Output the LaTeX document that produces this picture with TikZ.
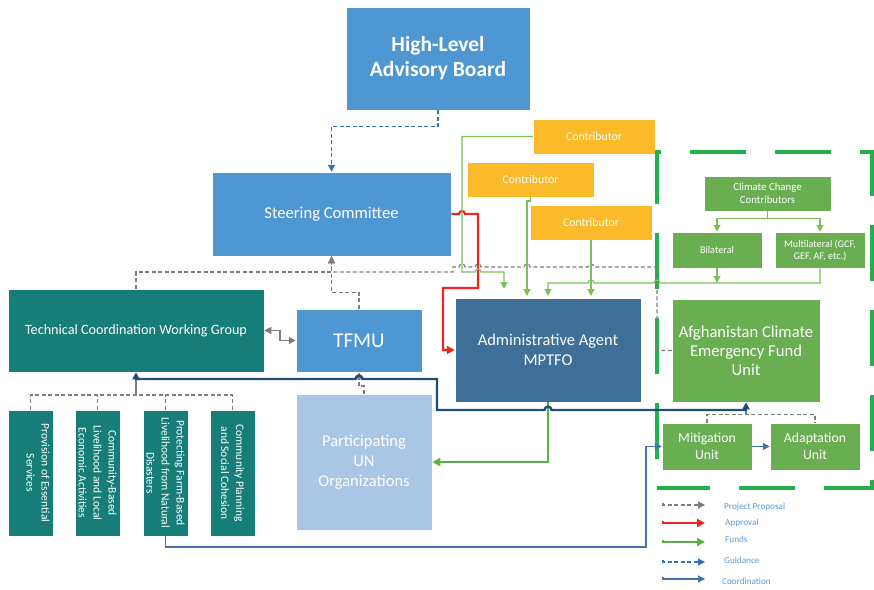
\documentclass[tikz,border=0pt]{standalone}
\usepackage{fontspec}
\setmainfont{Carlito}
\usetikzlibrary{arrows.meta}
\definecolor{midblue}{RGB}{78,151,210}
\definecolor{tealc}{RGB}{23,125,120}
\definecolor{darkbox}{RGB}{62,112,153}
\definecolor{lightbox}{RGB}{169,198,228}
\definecolor{orangec}{RGB}{251,186,41}
\definecolor{greenbox}{RGB}{106,174,82}
\definecolor{ppgray}{RGB}{125,125,125}
\definecolor{apred}{RGB}{238,36,36}
\definecolor{fundlight}{RGB}{124,192,90}
\definecolor{fundgreen}{RGB}{92,178,71}
\definecolor{guidblue}{RGB}{46,117,182}
\definecolor{coordblue}{RGB}{31,78,121}
\definecolor{coordthinblue}{RGB}{68,114,170}
\definecolor{legblue}{RGB}{91,155,213}
\definecolor{dashgreen}{RGB}{34,177,76}
\begin{document}
\begin{tikzpicture}[x=1pt,y=-1pt,
  box/.style={draw=white, line width=0.5pt, text=white, align=center, inner sep=2pt},
  pp/.style={draw=ppgray, line width=1.1pt, dash pattern=on 4pt off 2.5pt},
  ppsolid/.style={draw=ppgray, line width=1.1pt},
  appr/.style={draw=apred, line width=2.2pt},
  fund/.style={draw=fundlight, line width=1.2pt},
  fundthick/.style={draw=fundgreen, line width=2.5pt},
  guid/.style={draw=guidblue, line width=1.2pt, dash pattern=on 4pt off 2.5pt},
  coord/.style={draw=coordblue, line width=2.3pt},
  coordthin/.style={draw=coordthinblue, line width=1.1pt},
  legtext/.style={text=legblue, anchor=west, font=\fontsize{9.2}{10}\selectfont, inner sep=0pt},
  tipa/.tip={Triangle[length=7pt,width=7pt]},
  tipb/.tip={Triangle[length=8pt,width=8pt]},
  vbox/.style={box, fill=tealc, rotate=-90, minimum width=126pt, minimum height=45pt, font=\fontsize{11.5}{15}\selectfont},
  contr/.style={box, fill=orangec, minimum width=122pt, minimum height=35pt, font=\fontsize{11.8}{13}\selectfont},
  gbox/.style={box, fill=greenbox},
]
\useasboundingbox (0,0) rectangle (874,589);

% ---------- nodes ----------
\node[box, fill=midblue, minimum width=184pt, minimum height=103pt, font=\fontsize{21.5}{25}\selectfont\bfseries] (hlab) at (438,58.5) {High-Level\\Advisory Board};
\node[box, fill=midblue, minimum width=239pt, minimum height=84pt, font=\fontsize{16.6}{19}\selectfont] (sc) at (331.5,214) {Steering Committee};
\node[box, fill=tealc, minimum width=256pt, minimum height=83pt, font=\fontsize{14.2}{16}\selectfont] (tcwg) at (136,330.5) {Technical Coordination Working Group};
\node[box, fill=midblue, minimum width=126pt, minimum height=63pt, font=\fontsize{21}{24}\selectfont] (tfmu) at (359,340.5) {TFMU};
\node[box, fill=darkbox, minimum width=186pt, minimum height=104pt, font=\fontsize{16.5}{20}\selectfont] (mptfo) at (548,350) {Administrative Agent\\MPTFO};
\node[box, fill=lightbox, minimum width=136pt, minimum height=136pt, font=\fontsize{16.5}{20}\selectfont] (puno) at (364,462) {Participating\\UN\\Organizations};

\node[contr] (c1) at (594,136.5) {Contributor};
\node[contr, minimum width=127pt] (c2) at (530.5,179.5) {Contributor};
\node[contr] (c3) at (591,222.5) {Contributor};

\node[gbox, minimum width=127pt, minimum height=35pt, font=\fontsize{10.8}{12.5}\selectfont] (ccc) at (767.5,193.5) {Climate Change\\Contributors};
\node[gbox, minimum width=90pt, minimum height=36pt, font=\fontsize{10.2}{12}\selectfont] (bil) at (717,250) {Bilateral};
\node[gbox, minimum width=90pt, minimum height=36pt, font=\fontsize{10.2}{12}\selectfont, inner sep=1pt] (mul) at (820,250) {Multilateral (GCF,\\GEF, AF, etc.)};
\node[gbox, minimum width=148pt, minimum height=103pt, font=\fontsize{16.6}{19}\selectfont] (acef) at (746,350.5) {Afghanistan Climate\\Emergency Fund\\Unit};
\node[gbox, minimum width=90pt, minimum height=47pt, font=\fontsize{13.8}{17}\selectfont] (mit) at (707,446.5) {Mitigation\\Unit};
\node[gbox, minimum width=90pt, minimum height=47pt, font=\fontsize{13.8}{17}\selectfont] (ada) at (815,446.5) {Adaptation\\Unit};

\node[vbox] (v1) at (30.5,473) {Provision of Essential\\Services\\\mbox{}};
\node[vbox] (v2) at (97.5,473) {Community-Based\\Livelihood and Local\\Economic Activities};
\node[vbox] (v3) at (165.5,473) {Protecting Farm-Based\\Livelihood from Natural\\Disasters};
\node[vbox] (v4) at (232.5,473) {Community Planning\\and Social Cohesion};

% ---------- green dashed frame ----------
\draw[draw=dashgreen, line width=3.5pt, dash pattern=on 56pt off 29pt, dash phase=56pt]
  (657,488) -- (657,152) -- (872,152) -- (872,488) -- cycle;

% ---------- guidance ----------
\draw[guid, -tipa] (hlab.south) -- ++(0,16) -| (sc.north);

% ---------- project proposals ----------
\coordinate (ppj) at (331.5,272);
\draw[pp, -tipa] (tcwg.north) |- (ppj) -- (sc.south);
\draw[pp] (acef.west) -- (657,350.5) -- (657,267)
  -- (594,267) arc[start angle=0, end angle=-180, radius=3]
  -- (530,267) arc[start angle=0, end angle=-180, radius=3]
  -- (481,267) arc[start angle=0, end angle=-180, radius=3]
  -- (465,267) arc[start angle=0, end angle=-180, radius=3]
  -- (453,267) -- (453,272) -- (ppj);
\draw[pp, -tipa] (tfmu.north) -- ++(0,-16) -| (sc.south);
\draw[pp, -tipa] (puno.north) -- (364,386) -- (359,386) -- (tfmu.south);
\draw[pp] (v1.west) -- (30.5,395) -- (232.5,395) -- (v4.west);
\draw[pp] (v2.west) -- (97.5,395);
\draw[pp] (v3.west) -- (165.5,395);
\draw[ppsolid] (136,395) -- (136,380);
\draw[ppsolid, tipa-tipa] (tcwg.east) -- (280,330.5) |- (tfmu.west);
\draw[pp] (mit.north) -- ++(0,-8) -| (ada.north);
\draw[pp] (746,415) -- (746,410);

% ---------- approval ----------
\draw[appr, -tipb] (sc.east) -- (459,214) arc[start angle=180, end angle=360, radius=3]
  -- (478,214) -- (478,288) -- (443,288) -- (443,350) -- (mptfo.west);

% ---------- funds ----------
\draw[fund, -tipa] (c1.west) -- (462,136.5) -- (462,272)
  -- (475,272) arc[start angle=180, end angle=360, radius=3] -- (504,272) -- (504,289);
\draw[fund, -tipa] (c2.south) -- (530.5,201) -- (527,201) -- (527,296);
\draw[fund, -tipa] (c3.south) -- (591,296);
\draw[fund, -tipa] (ccc.south) -- ++(0,7) -| (bil.north);
\draw[fund, -tipa] (ccc.south) -- ++(0,7) -| (mul.north);
\draw[fund, -tipa] (mul.south) -- (820,283)
  -- (660,283) arc[start angle=0, end angle=-180, radius=3]
  -- (594,283) arc[start angle=0, end angle=-180, radius=3]
  -- (548,283) -- (548,296);
\draw[fund, -tipa] (bil.south) -- (717,283);
\draw[fundthick, -tipb] (mptfo.south) -- (548,462) -- (puno.east);

% ---------- coordination ----------
\draw[coord, tipa-tipa] (tcwg.south) -- (136,379)
  -- (355.5,379) arc[start angle=180, end angle=360, radius=3.5]
  -- (437,379) -- (437,410)
  -- (544.5,410) arc[start angle=180, end angle=360, radius=3.5]
  -- (746,410) -- (acef.south);
\draw[coordthin, -tipa] (v3.east) -- (165.5,547) -- (646,547) -- (646,446.5) -- (mit.west);
\draw[coordthin, line width=1.4pt, -tipa] (mit.east) -- (ada.west);

% ---------- legend ----------
\coordinate (l1a) at (663,505); \coordinate (l1b) at (705,505);
\coordinate (l2a) at (663,523); \coordinate (l2b) at (705,523);
\coordinate (l3a) at (663,542); \coordinate (l3b) at (705,542);
\coordinate (l4a) at (663,562); \coordinate (l4b) at (705,562);
\coordinate (l5a) at (663,579); \coordinate (l5b) at (705,579);
\draw[pp, -tipa] ([yshift=2pt]l1a) -- (l1a) -- (l1b);
\draw[appr, -tipb] ([yshift=2pt]l2a) -- (l2a) -- (l2b);
\draw[fundthick, -tipb] ([yshift=2pt]l3a) -- (l3a) -- (l3b);
\draw[guid, -tipa] ([yshift=2pt]l4a) -- (l4a) -- (l4b);
\draw[coordthin, -tipa] ([yshift=2pt]l5a) -- (l5a) -- (l5b);
\node[legtext] (t1) at (724,507) {Project Proposal};
\node[legtext] (t2) at (725,523) {Approval};
\node[legtext] (t3) at (725,539) {Funds};
\node[legtext] (t4) at (724,560) {Guidance};
\node[legtext] (t5) at (722,581) {Coordination};
\end{tikzpicture}
\end{document}
